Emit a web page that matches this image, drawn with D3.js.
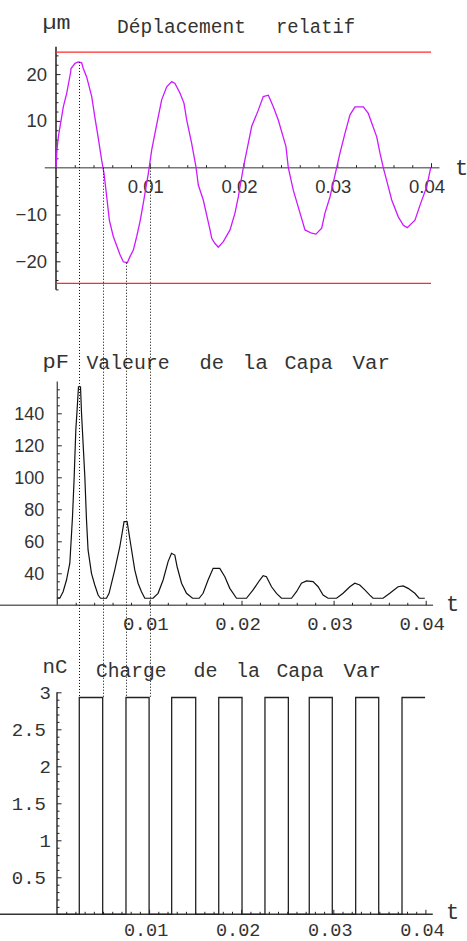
<!DOCTYPE html>
<html><head><meta charset="utf-8">
<script src="https://cdn.jsdelivr.net/npm/d3@7"></script>
<style>body{margin:0;background:#fff}svg{display:block}</style>
</head><body><svg id="c" width="467" height="941"></svg>
<script>
// ---------------- DATA ----------------
const dispT = [0,0.0001,0.00025,0.00078,0.00114,0.00157,0.0016,0.00203,0.00238,0.00274,0.00291,0.00327,0.00381,0.00416,0.00451,0.00487,0.00512,0.00541,0.00569,0.00611,0.00683,0.00718,0.00761,0.00789,0.00825,0.00861,0.00896,0.00931,0.00967,0.00985,0.01021,0.01056,0.01091,0.01127,0.01181,0.01234,0.01269,0.01323,0.01365,0.01394,0.01447,0.01493,0.01518,0.01571,0.01643,0.01661,0.01696,0.01731,0.01785,0.01856,0.01909,0.01945,0.01998,0.02051,0.02087,0.02158,0.02211,0.02265,0.02318,0.02371,0.02453,0.02478,0.02531,0.02603,0.02656,0.02727,0.02773,0.02834,0.02869,0.02923,0.02994,0.03029,0.03083,0.03136,0.03189,0.03278,0.03331,0.03421,0.03456,0.03491,0.03545,0.03581,0.03651,0.03705,0.03747,0.03829,0.03883,0.03954,0.03997];
const dispV = [0,3.8,6.6,13.0,15.9,20.5,21.2,22.3,22.6,22.4,21.2,19.4,15.2,10.6,6.3,1.6,-1.2,-6.2,-11.2,-14.7,-18.6,-20.1,-20.3,-19.0,-17.6,-14.7,-11.5,-7.6,-3.3,-1.2,3.8,7.4,10.9,14.5,17.3,18.4,18.0,15.9,13.8,10.2,5.2,0.2,-3.7,-6.9,-13.3,-15.1,-16.2,-17.0,-15.8,-13.3,-9.7,-6.2,0,5.2,8.8,12.3,15.2,15.5,13.0,10.2,4.5,0,-4.8,-9.7,-13.3,-14.0,-14.2,-12.9,-9.7,-6.2,0,3.1,7.4,11.3,13.0,13.0,11.6,6.6,3.1,0,-4.1,-6.9,-10.5,-12.3,-12.8,-11.2,-8.0,-4.1,0];
const limitV = [24.7, -24.7];

const capT = [0,0.00027,0.00063,0.001,0.00136,0.00165,0.00182,0.00201,0.00215,0.0023,0.00252,0.00263,0.00299,0.00317,0.00334,0.00371,0.00407,0.00443,0.00469,0.00534,0.00562,0.00624,0.00679,0.00725,0.00758,0.00795,0.00841,0.00877,0.00914,0.0095,0.0104,0.01094,0.01149,0.01203,0.0124,0.01276,0.01301,0.01349,0.01403,0.01468,0.0154,0.01583,0.01637,0.01692,0.01764,0.01819,0.01873,0.01946,0.02054,0.02126,0.02199,0.02235,0.02271,0.02326,0.0238,0.02434,0.02543,0.02597,0.02651,0.02706,0.02777,0.02832,0.02886,0.0294,0.03032,0.03103,0.03176,0.0323,0.03284,0.03339,0.03393,0.03429,0.03537,0.0361,0.037,0.03755,0.03809,0.03882,0.03928,0.0399];
const capV = [24.4,24.4,28.5,35.8,46.3,75.4,98.3,129.6,142.1,156.6,156.6,140,100.4,73.3,54.6,40,32.7,26.4,24.4,24.4,27.5,42.1,56.6,72.3,72.3,58.8,42.1,33.8,28.5,24.4,24.4,27.5,35.8,47.3,52.5,51.4,44.1,33.8,27.5,24.4,24.4,27.5,35.8,43.1,43.1,37.9,30.6,24.4,24.4,29.6,35.8,38.5,37.9,31.6,27.5,24.4,24.4,28.5,33.8,35.2,34.8,31.6,26.4,24.4,24.4,27.5,31.6,33.8,32.7,29.6,26.4,24.4,24.4,27.5,31.6,32.1,30.6,27.5,24.4,24.4];

const chargeRise = [0.00242,0.00749,0.01245,0.01756,0.02258,0.02739,0.03243,0.03746];
const chargeFall = [0.00496,0.01,0.01506,0.02009,0.02512,0.02989,0.03493];
const chargeEnd = 0.03996;
const chargeLevel = 2.93;

const markerT = [0.00249,0.00498,0.00747,0.00999];
const markerV = [22.6,0,-20.3,0];

const tTicks = [0.01,0.02,0.03,0.04];
const dispTicks = [20,10,-10,-20];
const capTicks = [40,60,80,100,120,140];
const chargeTicks = [0.5,1,1.5,2,2.5,3];

// ---------------- DRAW ----------------
const svg = d3.select("#c");
svg.append("rect").attr("width",467).attr("height",941).attr("fill","#fff");
const MONO = "'Liberation Mono','DejaVu Sans Mono',monospace";
const SANS = "'Liberation Sans',Arial,sans-serif";
const TXT = "#333";

const xTop = d3.scaleLinear().domain([0,0.04]).range([56,431]);
const yTop = d3.scaleLinear().domain([-20,20]).range([261.3,74.1]);
const xMid = d3.scaleLinear().domain([0,0.04]).range([57.3,425.7]);
const yMid = d3.scaleLinear().domain([20,140]).range([605.3,413.3]);
const xBot = d3.scaleLinear().domain([0,0.04]).range([57,425.4]);
const yBot = d3.scaleLinear().domain([0,3]).range([914.3,692.3]);

function range(a,b,s){const r=[];for(let v=a;v<=b+1e-9;v+=s)r.push(+v.toFixed(6));return r;}

function styleAxis(g,color,w){
  g.select(".domain").remove();
  g.selectAll(".tick line").attr("stroke",color).attr("stroke-width",w);
}

function xAxis(x, y0, xs, color, labelFont, labelSize, pad, dx, minorStep, extent){
  svg.append("line").attr("x1",x(extent[0])).attr("x2",x(extent[1]))
    .attr("y1",y0).attr("y2",y0).attr("stroke",color).attr("stroke-width",1.6);
  const minor = range(minorStep, extent[1], minorStep).filter(v=>!tTicks.some(t=>Math.abs(t-v)<1e-9));
  const gm = svg.append("g").attr("transform",`translate(0,${y0})`)
    .call(d3.axisBottom(x).tickValues(minor).tickFormat("").tickSize(-2.5));
  styleAxis(gm,"#222",1);
  const g = svg.append("g").attr("transform",`translate(0,${y0})`)
    .call(d3.axisBottom(x).tickValues(tTicks).tickFormat(d=>String(d)).tickSize(-4.5).tickPadding(pad));
  styleAxis(g,"#222",1);
  g.selectAll(".tick text").attr("font-family",labelFont).attr("font-size",labelSize)
    .attr("fill",TXT).attr("dx",dx);
}

function yAxis(y, x0, ticks, minor, extent, color, labelFont, labelSize, padFn, fmt){
  svg.append("line").attr("x1",x0).attr("x2",x0)
    .attr("y1",y(extent[0])).attr("y2",y(extent[1])).attr("stroke",color).attr("stroke-width",1.4);
  const gm = svg.append("g").attr("transform",`translate(${x0},0)`)
    .call(d3.axisLeft(y).tickValues(minor).tickFormat("").tickSize(-2.5));
  styleAxis(gm,"#222",1);
  const g = svg.append("g").attr("transform",`translate(${x0},0)`)
    .call(d3.axisLeft(y).tickValues(ticks).tickFormat(fmt).tickSize(-4.5).tickPadding(0));
  styleAxis(g,"#222",1);
  g.selectAll(".tick text").attr("font-family",labelFont).attr("font-size",labelSize)
    .attr("fill",TXT).attr("x",d=>-padFn(d));
}

function label(txt, x0, x1, y, size){
  svg.append("text").attr("x",x0).attr("y",y).attr("font-family",MONO)
    .attr("font-size",size).attr("fill",TXT)
    .attr("textLength",x1-x0).attr("lengthAdjust","spacingAndGlyphs").text(txt);
}

// ===== Top chart: displacement =====
xAxis(xTop, yTop(0), tTicks, "#777", SANS, 18.5, 12, -4.5, 0.002, [-0.0012,0.0409]);
yAxis(yTop, xTop(0), dispTicks, range(-26,24,2).filter(v=>v%10!==0), [-26.1,25.85], "#111", SANS, 18.5,
      d=>9, d=>String(d).replace("-","\u2212"));

svg.append("g").selectAll("line").data(limitV).join("line")
  .attr("x1",xTop(0)).attr("x2",xTop(0.04)).attr("y1",d=>yTop(d)).attr("y2",d=>yTop(d))
  .attr("stroke","#ff2a2a").attr("stroke-width",1.3);

svg.append("path").datum(dispT.map((t,i)=>[t,dispV[i]]))
  .attr("fill","none").attr("stroke","#cc1aff").attr("stroke-width",1.3)
  .attr("d",d3.line().x(d=>xTop(d[0])).y(d=>yTop(d[1])));

svg.append("text").attr("x",455).attr("y",175).attr("font-family",MONO).attr("font-size",22).attr("fill",TXT).text("t");
label("\u00b5m",42.5,70.5,28.5,20);
label("Déplacement",117,246,33.3,20);
label("relatif",276,355,33.3,20);

// ===== Middle chart: capacitance =====
xAxis(xMid, yMid(20), tTicks, "#666", MONO, 19, 11, -4, 0.002, [-0.0098,0.0408]);
yAxis(yMid, xMid(0), capTicks, range(25,160,5).filter(v=>v%20!==0), [20,159.8], "#555", SANS, 18,
      d=>13, d=>String(d));

svg.append("path").datum(capT.map((t,i)=>[t,capV[i]]))
  .attr("fill","none").attr("stroke","#111").attr("stroke-width",1.2)
  .attr("d",d3.line().x(d=>xMid(d[0])).y(d=>yMid(d[1])));

svg.append("text").attr("x",446).attr("y",611).attr("font-family",MONO).attr("font-size",22).attr("fill",TXT).text("t");
label("pF",42.5,69,368,20);
label("Valeure",86.5,169.5,369.3,20);
label("de",199.5,224,369.3,20);
label("la",242.5,268,369.3,20);
label("Capa",284.5,333,369.3,20);
label("Var",352.5,390,369.3,20);

// ===== Bottom chart: charge =====
xAxis(xBot, yBot(0), tTicks, "#333", MONO, 18.5, 9, -3.5, 0.001, [-0.011,0.0408]);
yAxis(yBot, xBot(0), chargeTicks, range(0.1,3,0.1).filter(v=>Math.abs(v*2-Math.round(v*2))>1e-6), [0,3], "#222", MONO, 19,
      d=>Number.isInteger(d)?6:11, d=>String(d));

const chargePts = [[0,0]];
chargeRise.forEach((r,i)=>{
  chargePts.push([r,0],[r,chargeLevel]);
  if(i<chargeFall.length) chargePts.push([chargeFall[i],chargeLevel],[chargeFall[i],0]);
  else chargePts.push([chargeEnd,chargeLevel]);
});
svg.append("path").datum(chargePts)
  .attr("fill","none").attr("stroke","#222").attr("stroke-width",1.3)
  .attr("d",d3.line().x(d=>xBot(d[0])).y(d=>yBot(d[1])));

svg.append("text").attr("x",446).attr("y",919.3).attr("font-family",MONO).attr("font-size",22).attr("fill",TXT).text("t");
label("nC",42.5,67.5,673.3,20);
label("Charge",96,166.5,677.3,20);
label("de",193.5,217.5,677.3,20);
label("la",236,260,677.3,20);
label("Capa",276.5,324,677.3,20);
label("Var",343.5,381,677.3,20);

// ===== Dotted marker lines =====
svg.append("g").selectAll("line").data(markerT).join("line")
  .attr("x1",d=>Math.round(xTop(d))+0.5).attr("x2",d=>Math.round(xTop(d))+0.5)
  .attr("y1",(d,i)=>yTop(markerV[i])).attr("y2",yBot(chargeLevel))
  .attr("stroke","#000").attr("stroke-width",1).attr("stroke-dasharray","1,2");
</script></body></html>
